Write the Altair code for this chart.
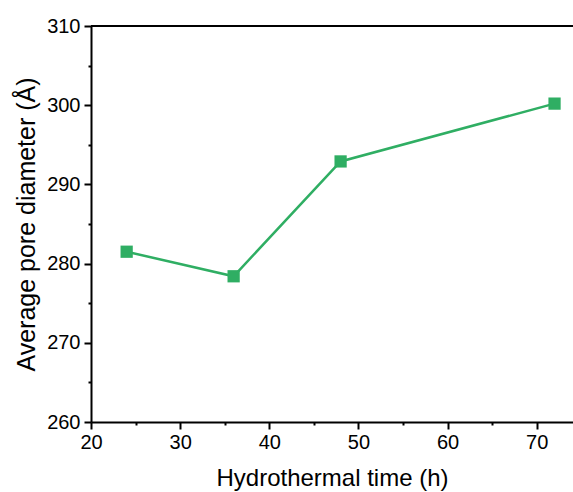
import altair as alt
import pandas as pd

hours = [24, 36, 48, 72]
pore_diameter = [281.5, 278.4, 292.9, 300.2]

x_minor = [25, 35, 45, 55, 65]
y_minor = [265, 275, 285, 295, 305]

df = pd.DataFrame({"h": hours, "d": pore_diameter})
GREEN = "#2fae63"
XDOM = [20, 74.07]
YDOM = [260, 310]
FONT = "Liberation Sans"

xs = alt.Scale(domain=XDOM, nice=False, zero=False)
ys = alt.Scale(domain=YDOM, nice=False, zero=False)

base = alt.Chart(df)

line = base.mark_line(color=GREEN, strokeWidth=2.5).encode(
    x=alt.X("h:Q", scale=xs, axis=alt.Axis(
        orient="bottom",
        title="Hydrothermal time (h)", values=[20, 30, 40, 50, 60, 70],
        grid=False, domainColor="black", domainWidth=2, tickColor="black",
        tickWidth=2, tickSize=7, labelFontSize=20, labelColor="black",
        labelPadding=3, labelFlush=False, titleFontSize=24,
        titleFontWeight="normal", titleColor="black", titlePadding=14,
        labelFont=FONT, titleFont=FONT)),
    y=alt.Y("d:Q", scale=ys, axis=alt.Axis(
        orient="left",
        title="Average pore diameter (Å)", values=[260, 270, 280, 290, 300, 310],
        grid=False, domainColor="black", domainWidth=2, tickColor="black",
        tickWidth=2, tickSize=7, labelFontSize=20, labelColor="black",
        labelPadding=4, labelFlush=False, titleFontSize=25,
        titleFontWeight="normal", titleColor="black", titlePadding=7,
        labelFont=FONT, titleFont=FONT)),
)

points = base.mark_square(color=GREEN, size=150, opacity=1).encode(
    x=alt.X("h:Q", scale=xs, axis=None),
    y=alt.Y("d:Q", scale=ys, axis=None),
)

minor_x = alt.Chart(pd.DataFrame({"v": x_minor})).mark_point(opacity=0).encode(
    x=alt.X("v:Q", scale=xs, axis=alt.Axis(
        orient="bottom",
        values=x_minor, labels=False, title=None, grid=False, domain=False,
        tickColor="black", tickWidth=2, tickSize=3)),
)
minor_y = alt.Chart(pd.DataFrame({"v": y_minor})).mark_point(opacity=0).encode(
    y=alt.Y("v:Q", scale=ys, axis=alt.Axis(
        orient="left",
        values=y_minor, labels=False, title=None, grid=False, domain=False,
        tickColor="black", tickWidth=2, tickSize=3)),
)

top = alt.Chart(df).mark_rule(color="black", strokeWidth=2).encode(
    y=alt.value(0), x=alt.value(0), x2=alt.value(490)
)

chart = alt.layer(line, points, minor_x, minor_y, top).resolve_axis(
    x="independent", y="independent"
).properties(
    width=482, height=396,
    padding={"left": 91, "top": 26, "right": 0, "bottom": 70},
    autosize=alt.AutoSizeParams(type="none"),
).configure_view(stroke=None).configure(background="white")

chart.save("out.html", embed_options={"renderer": "svg", "actions": False})
